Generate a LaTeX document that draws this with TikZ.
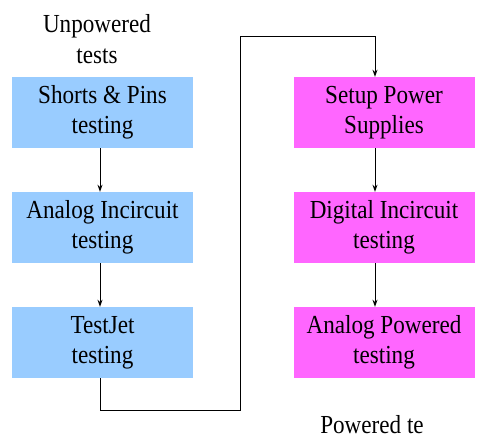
\documentclass[tikz,border=0pt]{standalone}
\usepackage{fontspec}
\setmainfont{Liberation Serif}[FakeStretch=0.89]
\usepackage{tikz}
\usetikzlibrary{arrows.meta,positioning}
\definecolor{unpow}{HTML}{99CCFF}
\definecolor{pow}{HTML}{FF66FF}
\tikzset{
  testbox/.style={rectangle, minimum width=181pt, minimum height=71pt, inner sep=0pt,
    align=center, font=\fontsize{26}{30}\selectfont},
  flow/.style={line width=0.9pt, -{Stealth[length=7pt,width=5pt]}},
}

\begin{document}
\begin{tikzpicture}[x=1pt,y=1pt]
    % Frame of the picture
    \useasboundingbox (0,0) rectangle (485,444);

    % Unpowered column
    \node[testbox, fill=unpow] (shorts) at (102.5,331.5) {Shorts \& Pins\\testing};
    \node[testbox, fill=unpow] (analog) at (102.5,216.5) {Analog Incircuit\\testing};
    \node[testbox, fill=unpow] (testjet) at (102.5,101.5) {TestJet\\testing};

    % Powered column
    \node[testbox, fill=pow] (setup) at (384,331.5) {Setup Power\\Supplies};
    \node[testbox, fill=pow] (digital) at (384,216.5) {Digital Incircuit\\testing};
    \node[testbox, fill=pow] (analogpw) at (384,101.5) {Analog Powered\\testing};

    % Column titles
    \node[align=center, font=\fontsize{26}{31}\selectfont] (unpowlabel) at (97,405) {Unpowered\\tests};
    \node[anchor=base, font=\fontsize{26}{30}\selectfont] (powlabel) at (372,10) {Powered te};

    % Turning points of the long connector
    \coordinate (lowturn) at (240,34);
    \coordinate (topturn) at (240,408);

    % Arrows
    \draw[flow] ([xshift=-2.5pt]shorts.south) -- ([xshift=-2.5pt]analog.north);
    \draw[flow] ([xshift=-2.5pt]analog.south) -- ([xshift=-2.5pt]testjet.north);
    \draw[flow] ([xshift=-2.5pt]testjet.south) |- (lowturn) -- (topturn) -| ([xshift=-9pt]setup.north);
    \draw[flow] ([xshift=-9pt]setup.south) -- ([xshift=-9pt]digital.north);
    \draw[flow] ([xshift=-9pt]digital.south) -- ([xshift=-9pt]analogpw.north);
  \end{tikzpicture}
\end{document}
